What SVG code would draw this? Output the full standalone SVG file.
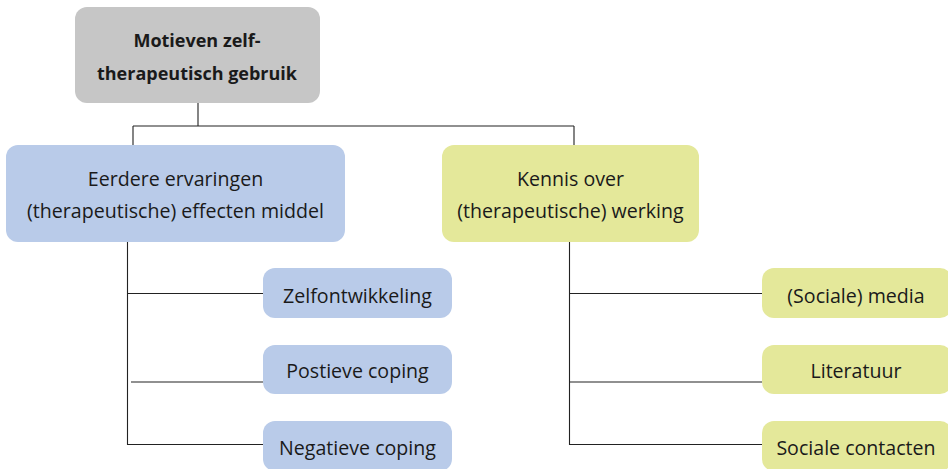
<svg xmlns="http://www.w3.org/2000/svg" width="948" height="469" viewBox="0 0 948 469">
<style>
.t{font-family:"Open Sans","Noto Sans",sans-serif;font-size:19.6px;fill:#1a1a1a;text-anchor:middle}
.b{font-weight:bold;font-size:18px}
.gray{fill:#c6c6c6}
.blue{fill:#b9cbe9}
.yel{fill:#e4e89a}
.c{stroke:#222;stroke-width:1.1;fill:none}
</style>
<rect width="948" height="469" fill="#fff"/>
<g id="connectors">
<path class="c" d="M198 103V126M133 126H574M133 126V145M574 126V145"/>
<path class="c" d="M127.5 242V444.5H263M127.5 293.5H263M131 382H263"/>
<path class="c" d="M569.5 242V444.5H762M569.5 293.5H762M569.5 382H762"/>
</g>
<g id="root">
<rect class="gray" x="75" y="7" width="245" height="96" rx="12"/>
<text class="t b" x="197" y="47">Motieven zelf-</text>
<text class="t b" x="197" y="80">therapeutisch gebruik</text>
</g>
<g id="eerdere">
<rect class="blue" x="6" y="145" width="339" height="97" rx="12"/>
<text class="t" x="175.5" y="186">Eerdere ervaringen</text>
<text class="t" x="175.5" y="218">(therapeutische) effecten middel</text>
</g>
<g id="kennis">
<rect class="yel" x="442" y="145" width="257" height="97" rx="12"/>
<text class="t" x="570.5" y="186">Kennis over</text>
<text class="t" x="570.5" y="218">(therapeutische) werking</text>
</g>
<g id="zelfontwikkeling">
<rect class="blue" x="263" y="268" width="189" height="50" rx="12"/>
<text class="t" x="357.5" y="303">Zelfontwikkeling</text>
</g>
<g id="postieve">
<rect class="blue" x="263" y="345" width="189" height="49" rx="12"/>
<text class="t" x="357.5" y="378">Postieve coping</text>
</g>
<g id="negatieve">
<rect class="blue" x="263" y="421" width="189" height="50" rx="12"/>
<text class="t" x="357.5" y="455">Negatieve coping</text>
</g>
<g id="media">
<rect class="yel" x="762" y="268" width="190" height="50" rx="12"/>
<text class="t" x="856" y="303">(Sociale) media</text>
</g>
<g id="literatuur">
<rect class="yel" x="762" y="345" width="190" height="49" rx="12"/>
<text class="t" x="856" y="378">Literatuur</text>
</g>
<g id="contacten">
<rect class="yel" x="762" y="421" width="190" height="50" rx="12"/>
<text class="t" x="856" y="455">Sociale contacten</text>
</g>
</svg>
